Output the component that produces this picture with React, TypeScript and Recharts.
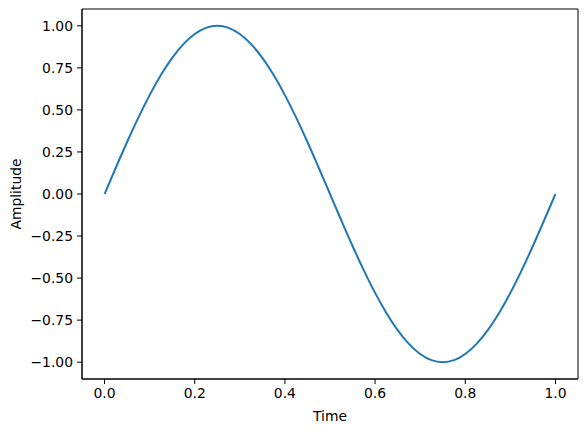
import { LineChart, Line, XAxis, YAxis, ReferenceArea } from 'recharts'

const times = [
  0, 0.025, 0.05, 0.075, 0.1, 0.125, 0.15, 0.175, 0.2, 0.225, 0.25,
  0.275, 0.3, 0.325, 0.35, 0.375, 0.4, 0.425, 0.45, 0.475, 0.5,
  0.525, 0.55, 0.575, 0.6, 0.625, 0.65, 0.675, 0.7, 0.725, 0.75,
  0.775, 0.8, 0.825, 0.85, 0.875, 0.9, 0.925, 0.95, 0.975, 1,
]
const amplitude = [
  0, 0.156, 0.309, 0.454, 0.588, 0.707, 0.809, 0.891, 0.951, 0.988, 1,
  0.988, 0.951, 0.891, 0.809, 0.707, 0.588, 0.454, 0.309, 0.156, 0,
  -0.156, -0.309, -0.454, -0.588, -0.707, -0.809, -0.891, -0.951, -0.988, -1,
  -0.988, -0.951, -0.891, -0.809, -0.707, -0.588, -0.454, -0.309, -0.156, 0,
]
const xTicks = [0, 0.2, 0.4, 0.6, 0.8, 1]
const yTicks = [-1, -0.75, -0.5, -0.25, 0, 0.25, 0.5, 0.75, 1]

const data = times.map((t, i) => ({ t, y: amplitude[i] }))

const font = 'DejaVu Sans, sans-serif'
const tickStyle = { fontSize: 13.9, fill: '#000', fontFamily: font }
const fmtY = (v: number) => v.toFixed(2).replace('-', '\u2212')

export default function App() {
  return (
    <div style={{ position: 'absolute', left: 0, top: 0, width: 587, height: 432, background: '#fff' }}>
      <LineChart width={587} height={432} data={data} margin={{ top: 9, right: 9, bottom: 0, left: 10 }}>
        <XAxis
          type="number"
          dataKey="t"
          domain={[-0.05, 1.05]}
          ticks={xTicks}
          tickFormatter={(v: number) => v.toFixed(1)}
          tick={tickStyle}
          tickSize={5}
          tickMargin={4}
          height={53}
          stroke="#000"
          allowDataOverflow
          label={{ value: 'Time', position: 'insideBottom', offset: 11, style: { fontSize: 13.9, fill: '#000', fontFamily: font } }}
        />
        <YAxis
          type="number"
          domain={[-1.1, 1.1]}
          ticks={yTicks}
          tickFormatter={fmtY}
          tick={tickStyle}
          tickSize={5}
          tickMargin={4}
          width={72}
          stroke="#000"
          allowDataOverflow
          label={{ value: 'Amplitude', angle: -90, position: 'insideLeft', offset: 6, style: { textAnchor: 'middle', fontSize: 13.9, fill: '#000', fontFamily: font } }}
        />
        <ReferenceArea x1={-0.05} x2={1.05} y1={-1.1} y2={1.1} fill="none" stroke="#000" strokeWidth={1} ifOverflow="visible" />
        <Line type="monotone" dataKey="y" stroke="#1f77b4" strokeWidth={2} dot={false} isAnimationActive={false} />
      </LineChart>
    </div>
  )
}
